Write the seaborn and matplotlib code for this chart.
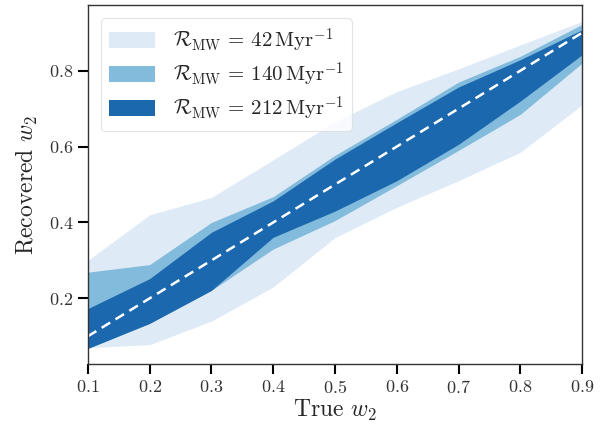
import matplotlib
matplotlib.use("Agg")
import matplotlib.pyplot as plt
import seaborn as sns
import numpy as np
import pandas as pd

true_w2 = [0.1, 0.2, 0.3, 0.4, 0.5, 0.6, 0.7, 0.8, 0.9]

light_lo = [0.070, 0.078, 0.140, 0.230, 0.360, 0.440, 0.510, 0.585, 0.710]
light_hi = [0.300, 0.420, 0.466, 0.565, 0.665, 0.745, 0.805, 0.868, 0.930]
mid_lo = [0.068, 0.134, 0.221, 0.330, 0.405, 0.497, 0.590, 0.685, 0.820]
mid_hi = [0.269, 0.289, 0.400, 0.468, 0.577, 0.672, 0.770, 0.838, 0.922]
dark_lo = [0.068, 0.134, 0.221, 0.361, 0.430, 0.510, 0.606, 0.720, 0.842]
dark_hi = [0.173, 0.252, 0.374, 0.457, 0.567, 0.663, 0.757, 0.829, 0.908]

labels = [r"$\mathcal{R}_{\rm MW}\,=\,42\,{\rm Myr}^{-1}$",
          r"$\mathcal{R}_{\rm MW}\,=\,140\,{\rm Myr}^{-1}$",
          r"$\mathcal{R}_{\rm MW}\,=\,212\,{\rm Myr}^{-1}$"]
colors = ["#deebf7", "#82bbdb", "#1c68ae"]

sns.set_style("ticks")
plt.rcParams.update({
    "font.family": "serif",
    "font.serif": ["cmr10"],
    "mathtext.fontset": "cm",
    "axes.formatter.use_mathtext": True,
    "axes.unicode_minus": False,
})

fig = plt.figure(figsize=(6.14, 4.24), dpi=100)
ax = fig.add_axes([0.143, 0.1415, 0.805, 0.8465])

bands = [(light_lo, light_hi), (mid_lo, mid_hi), (dark_lo, dark_hi)]
for (lo, hi), c, lab in zip(bands, colors, labels):
    ax.fill_between(true_w2, lo, hi, color=c, lw=0, label=lab)

df = pd.DataFrame({"x": true_w2, "y": true_w2})
sns.lineplot(data=df, x="x", y="y", ax=ax, color="white", lw=1.8,
             linestyle=(0, (4, 2.5)), legend=False)

ax.set_xlim(0.1, 0.9)
ax.set_ylim(0.027, 0.973)
ax.set_xticks([0.1, 0.2, 0.3, 0.4, 0.5, 0.6, 0.7, 0.8, 0.9])
ax.set_yticks([0.2, 0.4, 0.6, 0.8])
ax.set_xlabel(r"True $w_2$", fontsize=17, labelpad=2)
ax.set_ylabel(r"Recovered $w_2$", fontsize=17, labelpad=6)
ax.tick_params(axis="both", direction="out", length=7, width=1.5,
               labelsize=13, colors="black", labelcolor="#333333")
for s in ax.spines.values():
    s.set_color("#333333")
    s.set_linewidth(1.0)

leg = ax.legend(loc="upper left", fontsize=15, frameon=True, fancybox=True,
                handlelength=2.2, handleheight=0.8, borderpad=0.4,
                labelspacing=0.28, handletextpad=0.85,
                bbox_to_anchor=(0.005, 0.992))
leg.get_frame().set_edgecolor("#dddddd")
leg.get_frame().set_linewidth(0.8)

fig.savefig("out.png", dpi=100)
